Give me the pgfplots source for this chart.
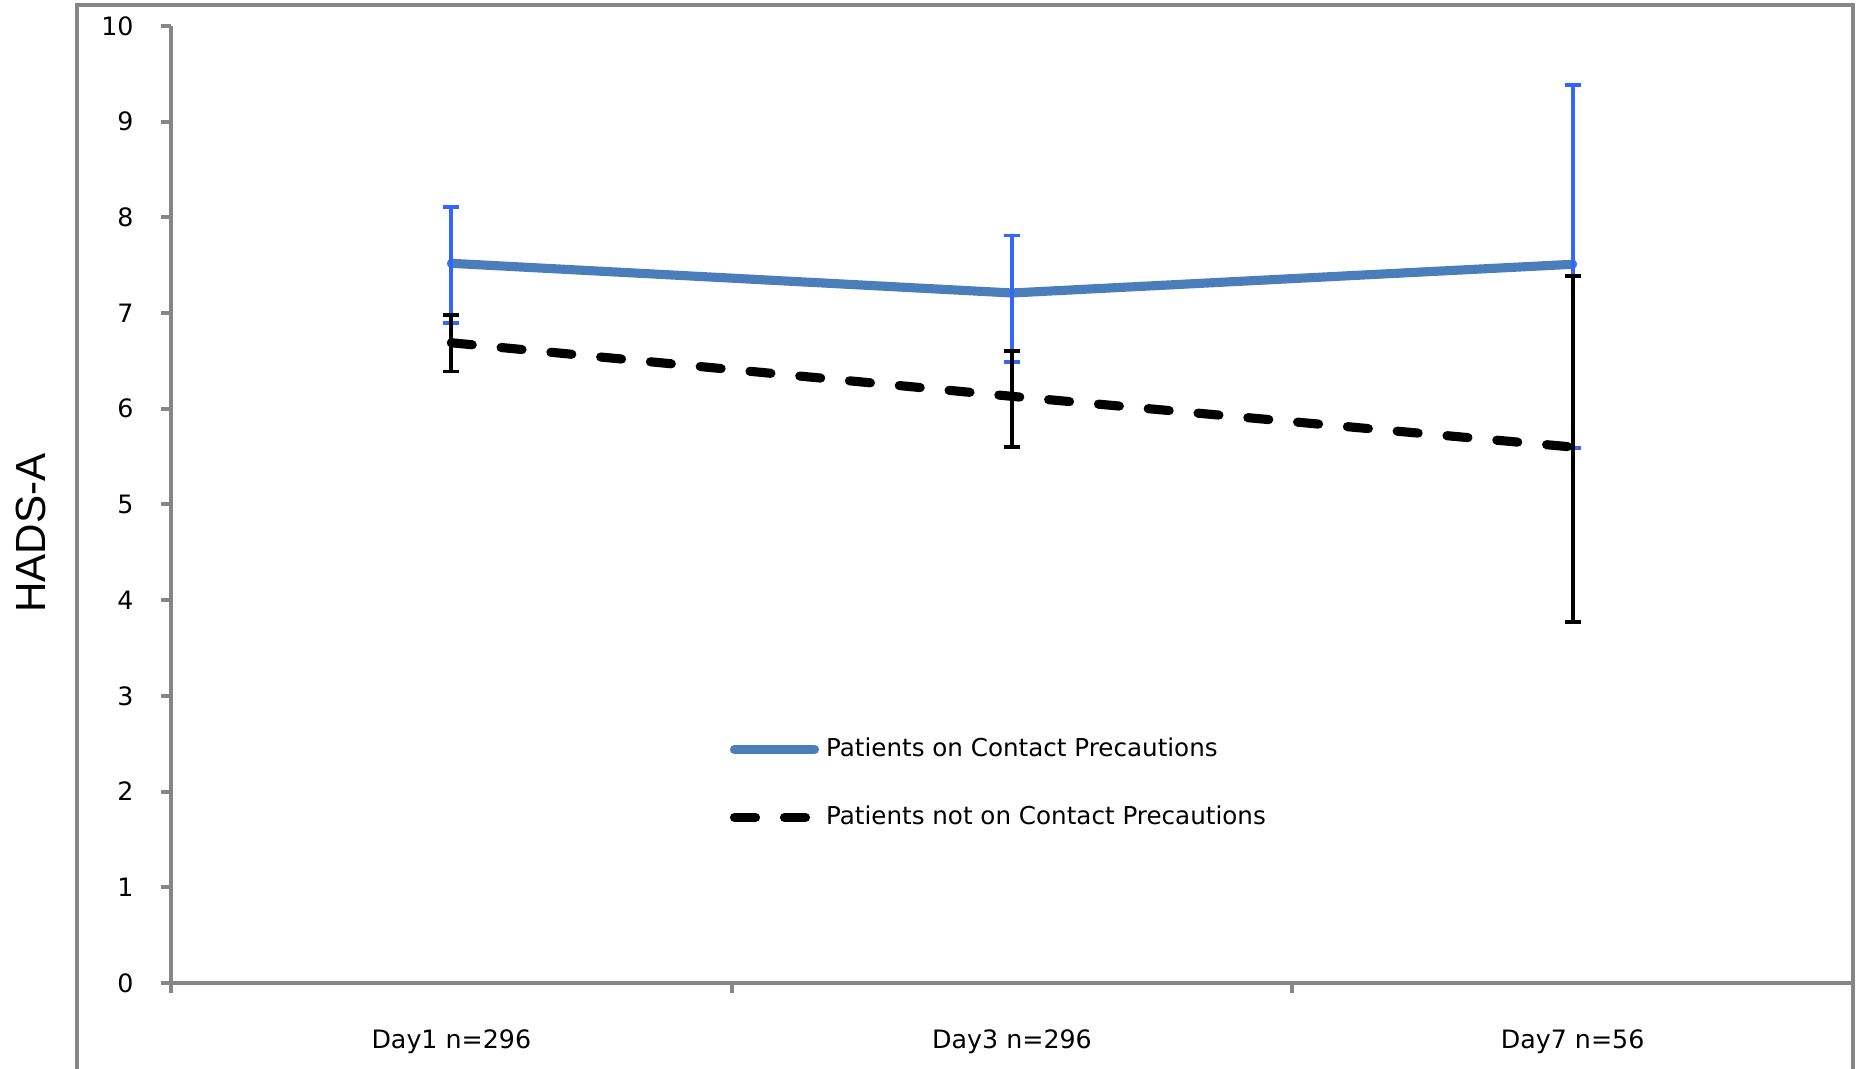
\documentclass[border=0pt]{standalone}
\usepackage{pgfplots}
\pgfplotsset{compat=1.18}
\usepackage{fontspec}
\setmainfont{DejaVu Sans}
\newfontfamily\lib{Liberation Sans}
\definecolor{axgray}{HTML}{868686}
\definecolor{cpblue}{HTML}{4A7EBB}
\definecolor{errblue}{HTML}{3366FF}
\begin{document}
\begin{tikzpicture}
\useasboundingbox (-17.1mm,-8.6mm) rectangle (169.4mm,98.3mm);
\draw[axgray, line width=0.35mm] (-9.4mm,-9mm) -- (-9.4mm,97.8mm) -- (168.2mm,97.8mm) -- (168.2mm,-9mm);
\begin{axis}[at={(0,0)}, anchor=south west, scale only axis,
  width=168.2mm, height=95.7mm,
  xmin=0, xmax=3, ymin=0, ymax=10,
  axis lines*=left,
  axis line style={axgray, line width=0.4mm},
  tick style={axgray, line width=0.4mm},
  tick align=outside, major tick length=1mm,
  ytick={0,1,...,10},
  xtick={0,1,2,3}, xticklabels={,,,},
  extra x ticks={0.5,1.5,2.5},
  extra x tick labels={Day1 n=296, Day3 n=296, Day7 n=56},
  extra x tick style={major tick length=0pt, xticklabel style={yshift=-3.4mm}},
  ticklabel style={font=\fontsize{7.2}{8.6}\selectfont},
  yticklabel style={xshift=-1.5mm},
  /pgf/number format/assume math mode=true,
  ylabel={HADS-A},
  ylabel style={font=\lib\fontsize{12}{14}\selectfont, at={(rel axis cs:-0.083,0.47)}, anchor=center},
  legend cell align=left,
  legend style={at={(rel axis cs:0.3256,0.272)}, anchor=north west, draw=none, fill=none,
    font=\fontsize{7}{8.4}\selectfont, row sep=3mm},
  legend image code/.code={\draw[#1] (0mm,0mm) -- (8mm,0mm);},
  clip=false]
\addplot[cpblue, line width=2.6pt, line cap=round, line join=round,
  error bars/.cd, y dir=both, y explicit,
  error bar style={errblue, solid, line width=1.1pt},
  error mark options={errblue, solid, rotate=90, mark size=0.8mm, line width=1.1pt}]
  coordinates {
  (0.5,7.52) += (0,0.59) -= (0,0.62)
  (1.5,7.21) += (0,0.60) -= (0,0.72)
  (2.5,7.51) += (0,1.87) -= (0,1.92)
  };
\addlegendentry{Patients on Contact Precautions}
\addplot[black, line width=2.6pt, line cap=round, dash pattern=on 2.1mm off 2.9mm,
  error bars/.cd, y dir=both, y explicit,
  error bar style={black, solid, line width=1.1pt, line cap=butt},
  error mark options={black, solid, rotate=90, mark size=0.8mm, line width=1.1pt}]
  coordinates {
  (0.5,6.69) += (0,0.29) -= (0,0.30)
  (1.5,6.13) += (0,0.47) -= (0,0.53)
  (2.5,5.60) += (0,1.79) -= (0,1.83)
  };
\addlegendentry{Patients not on Contact Precautions}
\end{axis}
\end{tikzpicture}
\end{document}
